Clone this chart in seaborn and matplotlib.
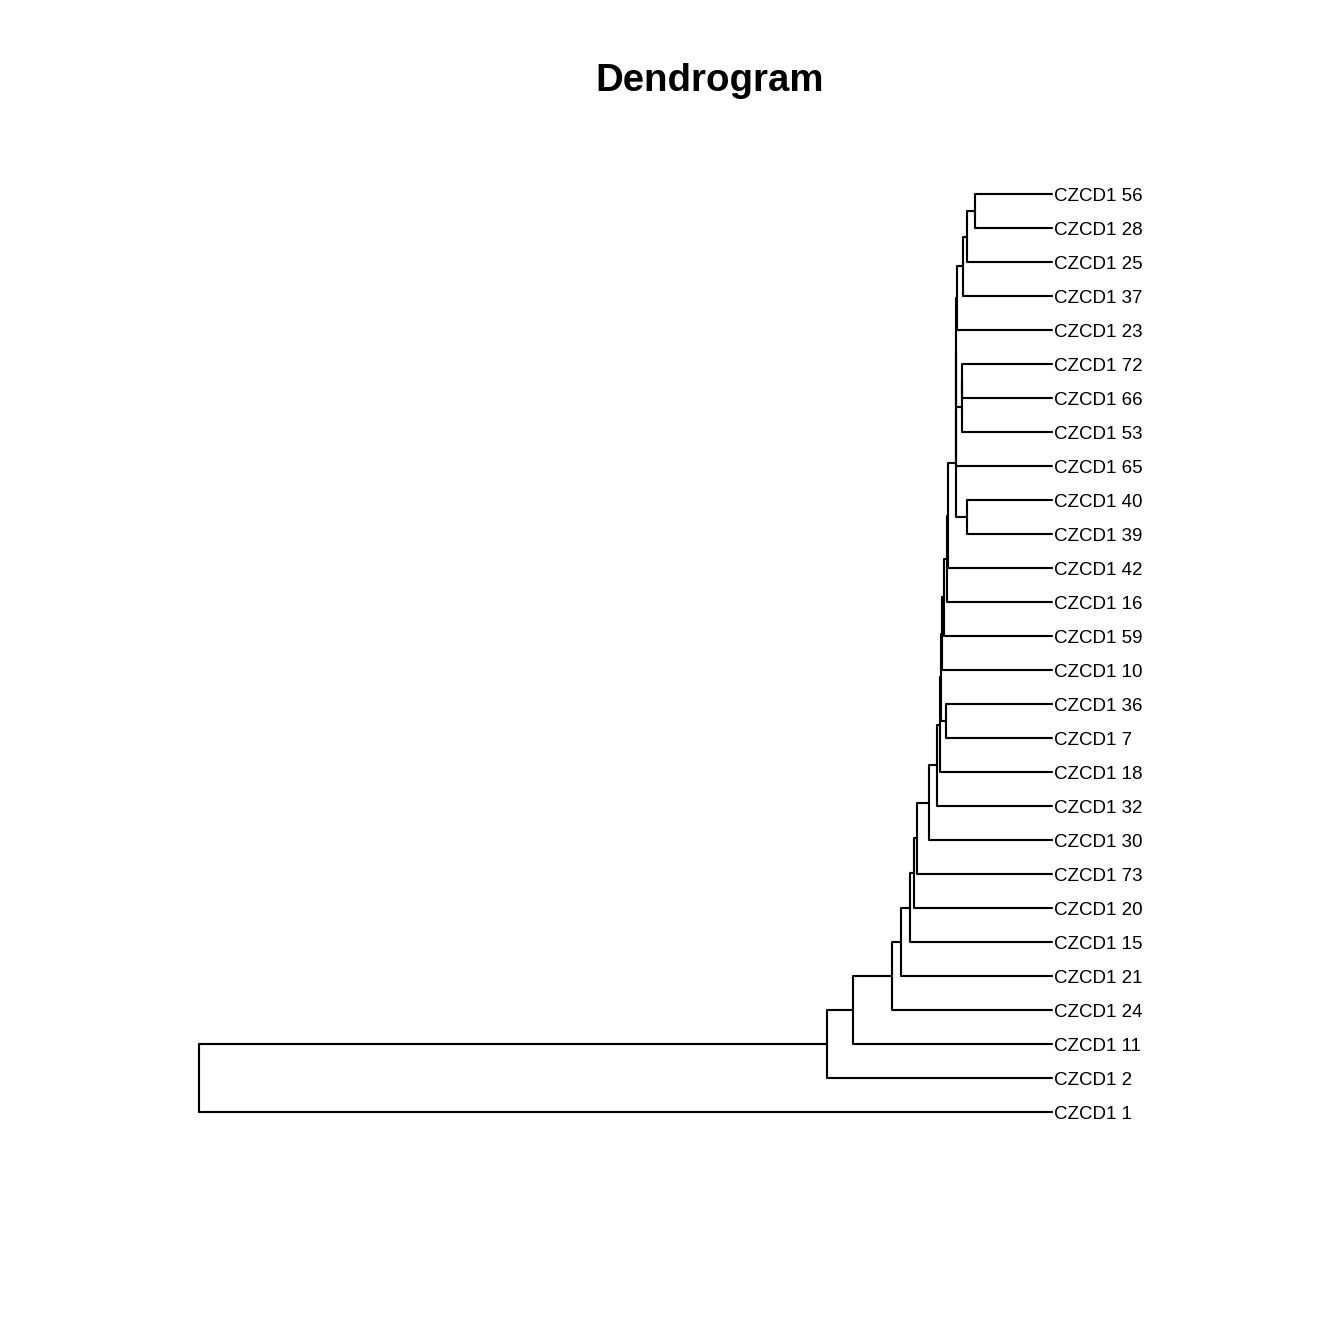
import pandas as pd
import matplotlib
matplotlib.use("Agg")
import matplotlib.pyplot as plt
import seaborn as sns

# Leaf ids (prefix "CZCD1 ") and merge steps.
# Each merge joins two members (leaf id as str, or index of an earlier merge) at a height.
label_prefix = "CZCD1 "
merge_left = ["56", 0, 1, 2, "72", 4, 3, 6, "40", 7, 9, 10, 11, 12, "36", 13, 15, 16, 17, 18, 19, 20, 21, 22, 23, 24, 25]
merge_right = ["28", "25", "37", "23", "66", "53", 5, "65", "39", 8, "42", "16", "59", "10", "7", 14, "18", "32", "30", "73", "20", "15", "21", "24", "11", "2", "1"]
merge_height = [9.0, 10.0, 10.47, 11.15, 10.5, 10.6, 11.2, 11.25, 10.0, 11.3, 12.2, 12.3, 12.66, 12.9,
                12.43, 13.05, 13.1, 13.52, 14.42, 15.86, 16.12, 16.65, 17.74, 18.79, 23.29, 26.34, 100.0]

# Lay out leaves in tree order (left child on top)
leaf_order = []


def collect(node):
    if isinstance(node, str):
        leaf_order.append(node)
    else:
        collect(merge_left[node])
        collect(merge_right[node])


collect(len(merge_height) - 1)
leaf_pos = {leaf: i for i, leaf in enumerate(leaf_order)}
node_pos = {}


def pos(node):
    # returns (height, y) for a member
    if isinstance(node, str):
        return 0.0, leaf_pos[node]
    return merge_height[node], node_pos[node]


rows = []
for i in range(len(merge_height)):
    hl, yl = pos(merge_left[i])
    hr, yr = pos(merge_right[i])
    h = merge_height[i]
    node_pos[i] = (yl + yr) / 2
    for x, y in [(hl, yl), (h, yl), (h, yr), (hr, yr)]:
        rows.append({"seg": i, "height": x, "y": y})
seg_df = pd.DataFrame(rows)

sns.set_style("white")
plt.rcParams['font.family'] = ['Liberation Sans', 'DejaVu Sans']
plt.rcParams['text.color'] = 'black'

fig = plt.figure(figsize=(7, 7), dpi=192)
W = 1344
ax = fig.add_axes([199 / W, 1 - 1112 / W, (1052 - 199) / W, (1112 - 194) / W])

sns.lineplot(data=seg_df, x="height", y="y", units="seg", estimator=None, sort=False,
             color="black", linewidth=0.8, ax=ax, clip_on=False)
ax.set_xlim(max(merge_height), 0)
ax.set_ylim(len(leaf_order) - 1, 0)
ax.axis("off")

for leaf in leaf_order:
    ax.annotate(label_prefix + leaf, (0, leaf_pos[leaf]), xytext=(0.6, -1.0), textcoords="offset points",
                ha="left", va="center", fontsize=7.05, color="black", annotation_clip=False)

fig.text(710 / W, 1 - 81 / W, "Dendrogram", ha="center", va="center", fontsize=14.4,
         fontweight="bold", color="black")

fig.savefig("out.png", dpi=192)
